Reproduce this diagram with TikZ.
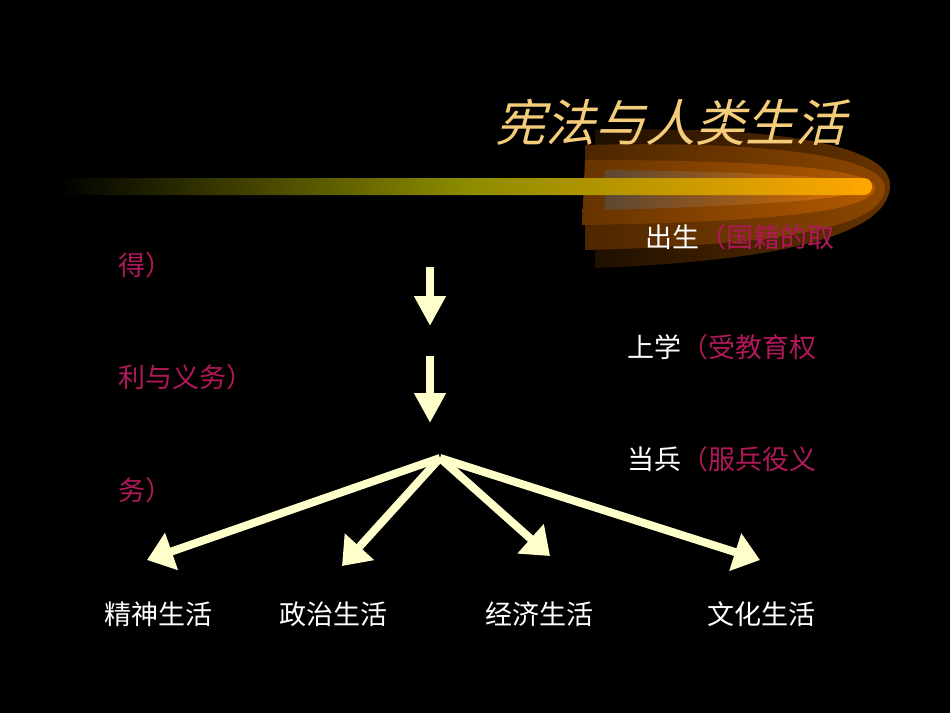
\documentclass[tikz,border=0pt]{standalone}
\usepackage{fontspec}
\newfontfamily\cjk{Noto Sans CJK SC}
\newfontfamily\cjkit[FakeSlant=0.25]{Noto Sans CJK SC}
\usetikzlibrary{arrows.meta}
\definecolor{cream}{HTML}{FFFFCC}
\definecolor{pinkr}{HTML}{B0185A}
\definecolor{titlec}{HTML}{F5CC7A}
\begin{document}
\begin{tikzpicture}[x=1pt,y=-1pt,
  lbl/.style={font=\cjk\fontsize{27}{27}\selectfont,text=white,inner sep=0pt,anchor=west},
  fan/.style={draw=cream,line width=8pt,-{Triangle[width=38pt,length=26pt]}},
  down/.style={draw=cream,line width=8pt,-{Triangle[width=30pt,length=30pt]}}]
\fill[black] (0,0) rectangle (950,713);
\useasboundingbox (0,0) rectangle (950,713);
% glow layers
\shade[left color=black!80!orange!60!black,right color=orange!40!black] (595,268) -- (595,130) .. controls (800,125) and (890,150) .. (890,185) .. controls (890,230) and (800,260) .. (595,268) -- cycle;
\shade[left color=orange!30!black,right color=orange!55!black] (585,250) -- (585,145) .. controls (790,140) and (885,160) .. (885,188) .. controls (885,225) and (790,245) .. (585,250) -- cycle;
\shade[left color=orange!40!black,right color=orange!70!black] (582,225) -- (585,160) .. controls (780,160) and (875,170) .. (875,188) .. controls (875,210) and (780,222) .. (582,225) -- cycle;
\shade[left color=orange!20!black!80,right color=orange!85!black] (605,210) -- (605,170) .. controls (780,172) and (860,178) .. (860,188) .. controls (860,198) and (780,205) .. (605,210) -- cycle;
% bar
\shade[left color=black,right color=orange!70!yellow,middle color=yellow!55!black,rounded corners=8pt] (58,178) rectangle (872,195);
\node[font=\cjkit\fontsize{50}{50}\selectfont,text=titlec,anchor=center] (title) at (670,122) {宪法与人类生活};
\node[lbl] (a1) at (645,237) {出生\textcolor{pinkr}{（国籍的取}};
\node[lbl,text=pinkr] (a2) at (118,265) {得）};
\node[lbl] (b1) at (627,347) {上学\textcolor{pinkr}{（受教育权}};
\node[lbl,text=pinkr] (b2) at (118,377) {利与义务）};
\node[lbl] (c1) at (627,459) {当兵\textcolor{pinkr}{（服兵役义}};
\node[lbl,text=pinkr] (c2) at (118,490) {务）};
\coordinate (d1s) at (430,267); \coordinate (d1e) at (430,326);
\coordinate (d2s) at (430,356); \coordinate (d2e) at (430,423);
\draw[down] (d1s) -- (d1e);
\draw[down] (d2s) -- (d2e);
\coordinate (hub) at (440,458);
\node[lbl] (l1) at (104,614) {精神生活};
\node[lbl] (l2) at (279,614) {政治生活};
\node[lbl] (l3) at (485,614) {经济生活};
\node[lbl] (l4) at (707,614) {文化生活};
\coordinate (t1) at (147,560); \coordinate (t2) at (342,566);
\coordinate (t3) at (550,556); \coordinate (t4) at (760,560);
\draw[fan] (hub) -- (t1);
\draw[fan] (hub) -- (t2);
\draw[fan] (hub) -- (t3);
\draw[fan] (hub) -- (t4);
\end{tikzpicture}
\end{document}
